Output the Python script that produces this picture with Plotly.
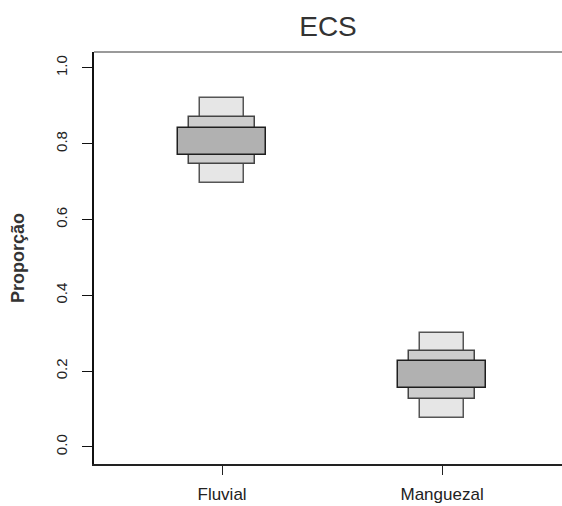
import plotly.graph_objects as go

# Interval summaries per habitat (proportion scale)
categories = ["Fluvial", "Manguezal"]
positions = [1, 2]
lo95 = [0.696, 0.076]
hi95 = [0.920, 0.300]
lo75 = [0.746, 0.126]
hi75 = [0.870, 0.252]
lo50 = [0.769, 0.155]
hi50 = [0.842, 0.227]

y_ticks = [0.0, 0.2, 0.4, 0.6, 0.8, 1.0]
y_tick_text = ["0.0", "0.2", "0.4", "0.6", "0.8", "1.0"]

FONT = "Liberation Sans, Arial, Helvetica, sans-serif"

fig = go.Figure()

# nested boxes: narrow/tall outer interval at the back, wide/short inner on top
layers = [
    (lo95, hi95, 0.20, "#e6e6e6", "#555555"),
    (lo75, hi75, 0.30, "#cdcdcd", "#444444"),
    (lo50, hi50, 0.40, "#b1b1b1", "#1e1e1e"),
]
for lo, hi, w, fill, edge in layers:
    fig.add_trace(go.Bar(
        x=positions,
        y=[h - l for l, h in zip(lo, hi)],
        base=lo,
        width=w,
        marker=dict(color=fill, line=dict(color=edge, width=1.5)),
        showlegend=False,
        hoverinfo="skip",
    ))

fig.update_layout(
    width=562, height=506,
    margin=dict(l=94, r=0, t=52, b=42),
    paper_bgcolor="white", plot_bgcolor="white",
    barmode="overlay",
    bargap=0,
    font=dict(family=FONT, color="#222222"),
    title=dict(text="ECS", x=(94 + 562) / 2 / 562, xanchor="center",
               y=1 - 26 / 506, yanchor="middle",
               font=dict(size=28, color="#333333", family=FONT)),
)

fig.update_xaxes(
    range=[0.418, 2.545],
    tickmode="array", tickvals=positions, ticktext=categories,
    showgrid=False, zeroline=False,
    showline=True, linecolor="#222222", linewidth=2,
    ticks="outside", ticklen=9, tickcolor="#222222", tickwidth=1.2,
    tickfont=dict(size=17, color="#222222"),
    ticklabelstandoff=5,
)

fig.update_yaxes(
    range=[-0.045, 1.042],
    tickmode="array", tickvals=y_ticks, ticktext=y_tick_text,
    tickangle=-90,
    showgrid=False, zeroline=False,
    showline=True, linecolor="#111111", linewidth=1.5,
    ticks="outside", ticklen=10, tickcolor="#111111", tickwidth=1.2,
    tickfont=dict(size=15, color="#222222"),
    ticklabelstandoff=9,
    title=dict(text="<b>Proporção</b>", font=dict(size=18, color="#333333"),
               standoff=24),
)

# thin grey rule along the top of the plotting region
fig.add_shape(type="line", xref="paper", yref="paper",
              x0=0, x1=1, y0=1, y1=1,
              line=dict(color="#9a9a9a", width=2))

page_css = (
    "var s=document.createElement('style');"
    "s.textContent='html,body{margin:0;padding:0;overflow:hidden;}"
    "::-webkit-scrollbar{display:none;width:0;height:0;}';"
    "document.head.appendChild(s);"
)

fig.write_html("out.html", post_script=page_css)
